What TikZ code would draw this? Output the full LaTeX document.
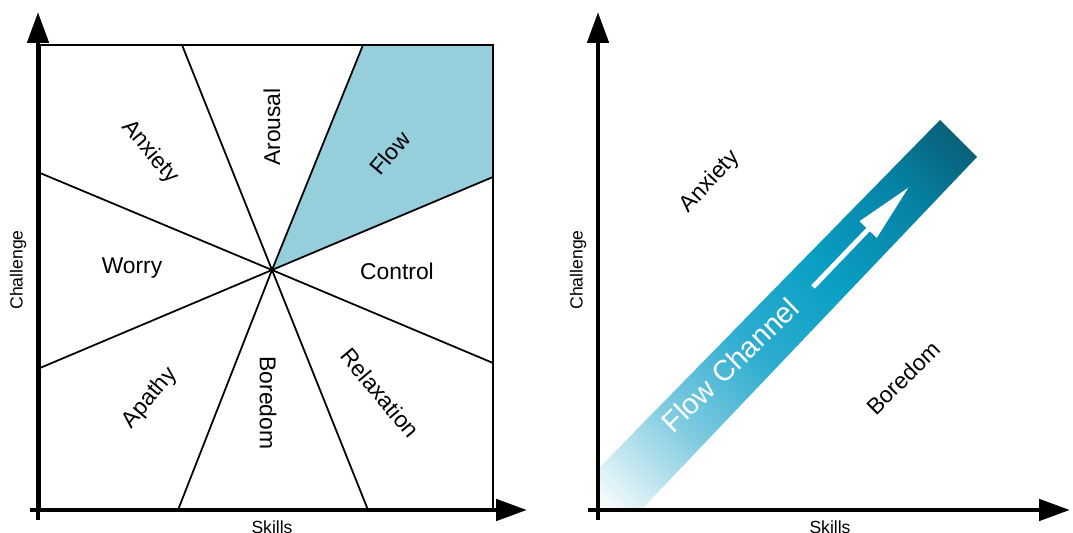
\documentclass[tikz,border=0pt]{standalone}
\usepackage{fontspec}
\setmainfont{Liberation Sans}
\usetikzlibrary{arrows.meta}

\definecolor{flowblue}{RGB}{150,206,220}
\definecolor{chanA}{RGB}{242,250,252}
\definecolor{chanB}{RGB}{128,203,224}
\definecolor{chanC}{RGB}{44,172,208}
\definecolor{chanD}{RGB}{10,160,196}
\definecolor{chanE}{RGB}{6,130,165}
\definecolor{chanF}{RGB}{10,84,104}
\pgfdeclarehorizontalshading{channel}{100bp}{color(0bp)=(chanA); color(16bp)=(chanA);
  color(30bp)=(chanB); color(44bp)=(chanC); color(57bp)=(chanD); color(72bp)=(chanE);
  color(86bp)=(chanF); color(100bp)=(chanF)}

\begin{document}
\begin{tikzpicture}[x=0.02cm,y=0.02cm,
    axis/.style={line width=2.8pt,-{Triangle[length=0.62cm,width=0.42cm]}},
    sector/.style={line width=1pt},
    region/.style={font=\fontsize{13}{15}\selectfont},
    axislabel/.style={font=\fontsize{10}{12}\selectfont}]
  \useasboundingbox (0,0) rectangle (1073,533);

  % eight-channel model
  \coordinate (c) at (272,263);
  \fill[flowblue] (c) -- (363,488) -- (493,488) -- (493,356) -- cycle;
  \draw[sector] (40,23) rectangle (493,488);
  \foreach \x/\y in {182/488,363/488,40/360,493/356,40/165,493/170,178/23,368/23}
    \draw[sector] (c) -- (\x,\y);
  \draw[axis] (38,13) -- (38,521);
  \draw[axis] (30,23) -- (527,23);

  \node[region,rotate=-50] (anxL) at (150,381) {Anxiety};
  \node[region,rotate=90] (arousal) at (272,406) {Arousal};
  \node[region,rotate=50] (flowL) at (390,380) {Flow};
  \node[region] (worry) at (132,265) {Worry};
  \node[region] (control) at (397,262) {Control};
  \node[region,rotate=50] (apathy) at (150,135) {Apathy};
  \node[region,rotate=-90] (borL) at (268,130) {Boredom};
  \node[region,rotate=-50] (relax) at (380,140) {Relaxation};
  \node[axislabel,rotate=90] (chalL) at (18,263) {Challenge};
  \node[axislabel] (skillL) at (272,6) {Skills};

  % flow channel
  \shade[shading=channel,shading angle=45]
    (598,23) -- (598,64) -- (940,413) -- (977,376) -- (641,23) -- cycle;
  \draw[white,line width=2.8pt,-{Triangle[length=1.18cm,width=0.45cm]}]
    (813,246) -- (909,346);
  \draw[axis] (598,13) -- (598,521);
  \draw[axis] (588,23) -- (1070,23);

  \node[white,rotate=44,font=\fontsize{16.5}{18}\selectfont] (chan) at (730,168) {Flow Channel};
  \node[region,rotate=47] (anxR) at (710,351) {Anxiety};
  \node[region,rotate=45] (borR) at (903,155) {Boredom};
  \node[axislabel,rotate=90] (chalR) at (578,263) {Challenge};
  \node[axislabel] (skillR) at (830,6) {Skills};
\end{tikzpicture}
\end{document}
